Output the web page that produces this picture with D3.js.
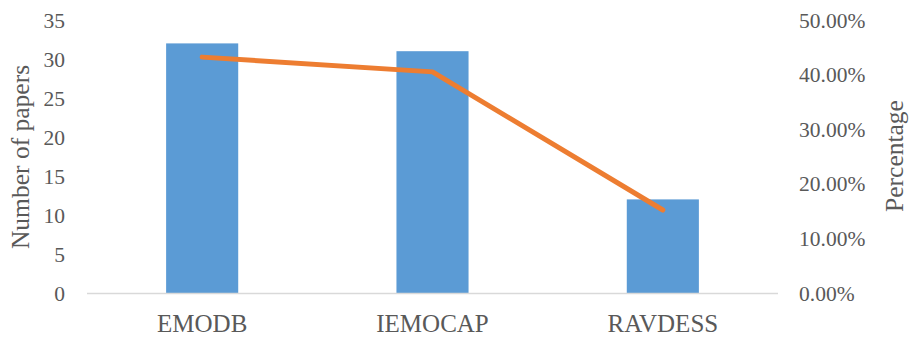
<!DOCTYPE html>
<html>
<head>
<meta charset="utf-8">
<script src="https://cdn.jsdelivr.net/npm/d3@7"></script>
<style>
  html, body { margin: 0; padding: 0; background: #fff; }
  svg { display: block; }
</style>
</head>
<body>
<svg id="chart" width="914" height="337"></svg>
<script>
// Datasets, paper counts (bars) and share of papers (line)
const categories = ["EMODB", "IEMOCAP", "RAVDESS"];
const paperCounts = [32, 31, 12];
const percentages = [0.432, 0.405, 0.152];
const leftTicks = [0, 5, 10, 15, 20, 25, 30, 35];
const rightTicks = [0, 0.1, 0.2, 0.3, 0.4, 0.5];

const W = 914, H = 337;
const plot = { left: 87, right: 778, top: 20, bottom: 293 };
const textColor = "#595959";
const font = "'Liberation Serif', 'Times New Roman', serif";

const svg = d3.select("#chart");

const x = d3.scaleBand()
  .domain(categories)
  .range([plot.left, plot.right])
  .paddingInner(0.687)
  .paddingOuter(0.3435);

const yLeft = d3.scaleLinear().domain([0, 35]).range([plot.bottom, plot.top]);
const yRight = d3.scaleLinear().domain([0, 0.5]).range([plot.bottom, plot.top]);

// Bars
svg.append("g")
  .selectAll("rect")
  .data(categories)
  .join("rect")
  .attr("x", d => x(d))
  .attr("width", x.bandwidth())
  .attr("y", (d, i) => yLeft(paperCounts[i]))
  .attr("height", (d, i) => yLeft(0) - yLeft(paperCounts[i]))
  .attr("fill", "#5B9BD5");

// Baseline
svg.append("line")
  .attr("x1", plot.left).attr("x2", plot.right)
  .attr("y1", yLeft(0) + 0.5).attr("y2", yLeft(0) + 0.5)
  .attr("stroke", "#D9D9D9").attr("stroke-width", 1.5);

// Percentage line
const line = d3.line()
  .x((d, i) => x(categories[i]) + x.bandwidth() / 2)
  .y(d => yRight(d));

svg.append("path")
  .datum(percentages)
  .attr("d", line)
  .attr("fill", "none")
  .attr("stroke", "#ED7D31")
  .attr("stroke-width", 5)
  .attr("stroke-linecap", "round")
  .attr("stroke-linejoin", "round");

// Left axis
const leftAxis = d3.axisLeft(yLeft).tickValues(leftTicks).tickSize(0).tickPadding(0);
const gl = svg.append("g").attr("transform", "translate(65,0)").call(leftAxis);
gl.select(".domain").remove();
gl.selectAll("text")
  .attr("fill", textColor)
  .attr("font-family", font)
  .attr("font-size", "21.5px")
  .attr("dy", "0.33em");

// Right axis
const rightAxis = d3.axisRight(yRight).tickValues(rightTicks).tickSize(0).tickPadding(0)
  .tickFormat(d3.format(".2%"));
const gr = svg.append("g").attr("transform", "translate(799,0)").call(rightAxis);
gr.select(".domain").remove();
gr.selectAll("text")
  .attr("fill", textColor)
  .attr("font-family", font)
  .attr("font-size", "21.5px")
  .attr("dy", "0.33em");

// Category axis
const bottomAxis = d3.axisBottom(x).tickSize(0).tickPadding(0);
const gb = svg.append("g").attr("transform", "translate(0,331.5)").call(bottomAxis);
gb.select(".domain").remove();
gb.selectAll("text")
  .attr("fill", textColor)
  .attr("font-family", font)
  .attr("font-size", "25px")
  .attr("dy", "0");

// Axis titles
svg.append("text")
  .attr("transform", "translate(29,157) rotate(-90)")
  .attr("text-anchor", "middle")
  .attr("fill", textColor)
  .attr("font-family", font)
  .attr("font-size", "25.5px")
  .text("Number of papers");

svg.append("text")
  .attr("transform", "translate(903,156) rotate(-90)")
  .attr("text-anchor", "middle")
  .attr("fill", textColor)
  .attr("font-family", font)
  .attr("font-size", "25.5px")
  .text("Percentage");
</script>
</body>
</html>
